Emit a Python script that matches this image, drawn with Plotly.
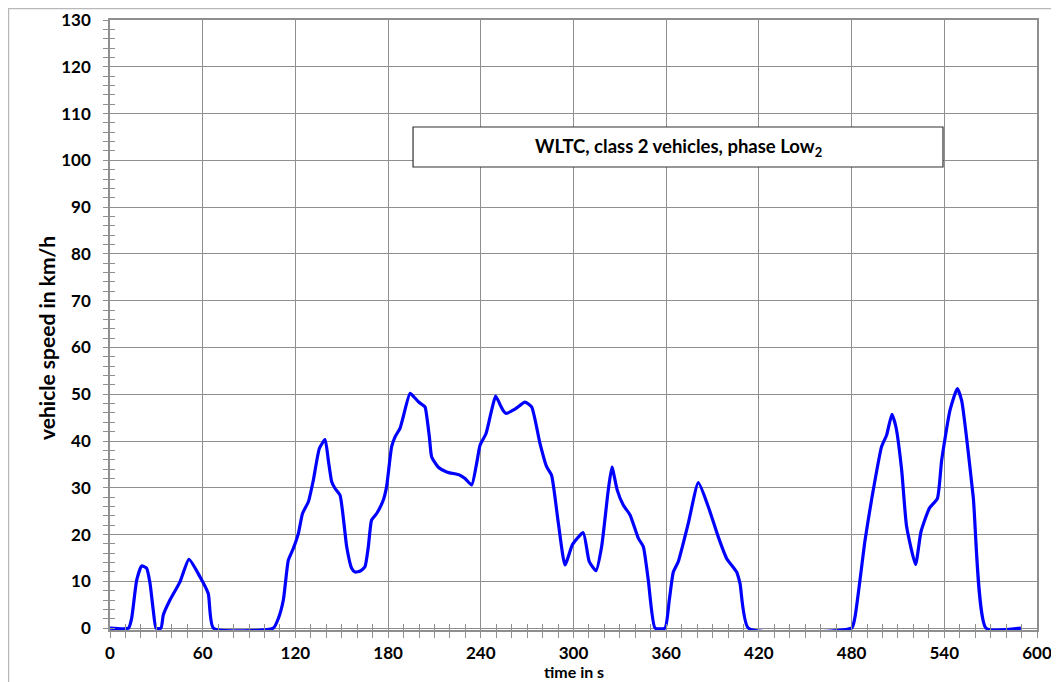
import plotly.graph_objects as go

# WLTC class 2, phase Low2 – speed trace
time_s = [
    0, 12, 14, 17.3, 20.5, 23.7, 25.9, 28, 29.8, 33, 34.5, 38.8, 45.3, 51.1,
    58.2, 63.6, 66.9, 105.7, 109, 112.2, 115.4, 118.6, 121.9, 124.6, 128.4,
    131.6, 135.5, 139.2, 141.3, 143.5, 145.6, 148.9, 153.2, 156.4, 158.6, 162,
    165, 167.2, 169.3, 172.6, 176.9, 179, 182.3, 184.5, 187.7, 189.8, 194.2,
    196.5, 199.6, 202.4, 203.9, 206.7, 208.2, 212.5, 217.9, 226.5, 229.8,
    234.1, 237.3, 239.5, 243.4, 247, 249.6, 252.9, 254.5, 256.3, 262.1, 268.6,
    272.9, 278.3, 282.6, 285.8, 290.2, 294.5, 299.4, 306.3, 310.2, 314.6,
    318.2, 322.5, 324.9, 328.3, 332.2, 336.6, 342, 345.2, 348.4, 352.8, 359.2,
    362, 364.6, 367.8, 374.3, 380.8, 387.3, 393.7, 399.1, 405.6, 407.8, 413.2,
    480, 482.2, 488.7, 492.9, 499.4, 502.7, 506.1, 508.7, 512.4, 515.6, 521.4,
    524.9, 530.3, 535.5, 538.3, 543.7, 548.4, 551.2, 558.7, 567, 589.6,
]
speed_kmh = [
    0, 0, 2.1, 10.3, 13.3, 12.8, 9.6, 3.8, 0, 0, 2.8, 6, 9.9, 14.7,
    11, 7.4, 0, 0, 2.1, 6, 14.5, 17, 20.2, 24.5, 27,
    31.6, 38.4, 40.3, 35.9, 31.3, 29.9, 28.4, 17.4, 12.8, 12.0, 12.2,
    13.1, 17.4, 23.1, 24.5, 27.4, 30.2, 38.8, 40.9, 42.7, 45.2, 50.2,
    49.5, 48.4, 47.7, 47.3, 40.9, 36.6, 34.4, 33.4, 32.7, 32,
    30.6, 35.2, 39.1, 41.6, 46.6, 49.6, 47.5, 46.5, 45.9, 46.8, 48.3,
    47.3, 39.5, 34.5, 32.7, 22.4, 13.5, 17.9, 20.4, 14.2, 12.3,
    17.4, 29.5, 34.4, 29.5, 26.3, 24.2, 19.2, 17.4, 10.3, 0, 0,
    6, 12, 14.2, 22.4, 31.1, 25.9, 19.5, 14.9, 12.0, 9.5, 0,
    0, 2.4, 18.8, 27.4, 38.8, 41.3, 45.7, 43, 33.8, 21.7, 13.6,
    20.6, 25.6, 27.7, 35.9, 46.6, 51.2, 48.7, 28.1, 0, 0,
]

X_RANGE = [0, 600]
Y_RANGE = [-0.4, 130]   # small pad so the line along 0 is not clipped
FONT = "Lato"
GRID = "#8f8f8f"

fig = go.Figure()
fig.add_trace(go.Scatter(
    x=time_s, y=speed_kmh,
    mode="lines",
    line=dict(color="#0000ff", width=3.2, shape="spline", smoothing=0.5),
    showlegend=False,
))
# empty trace so the overlay axes (inner half of the crossing ticks) get drawn
fig.add_trace(go.Scatter(x=[], y=[], xaxis="x2", yaxis="y2", showlegend=False))

tick_font = dict(family=FONT, size=17, color="black", weight="bold")

# the page body keeps its 8 px margin, so the figure is 8 px smaller each way
fig.update_layout(
    width=1051, height=674,
    margin=dict(l=102, r=22, t=12, b=52, autoexpand=False),
    paper_bgcolor="white", plot_bgcolor="white",
    xaxis=dict(
        range=X_RANGE, tick0=0, dtick=60, automargin=False,
        showgrid=True, gridcolor=GRID, gridwidth=1,
        showline=True, linecolor=GRID, linewidth=1.5, mirror=True,
        ticks="outside", ticklen=6, tickcolor=GRID, tickwidth=1,
        minor=dict(dtick=10, ticks="outside", ticklen=6, tickcolor=GRID, showgrid=False),
        tickfont=tick_font, ticklabelstandoff=1,
        zeroline=False,
    ),
    yaxis=dict(
        range=Y_RANGE, tick0=0, dtick=10, automargin=False,
        showgrid=True, gridcolor=GRID, gridwidth=1,
        showline=True, linecolor=GRID, linewidth=1.5, mirror=True,
        ticks="outside", ticklen=5, tickcolor=GRID, tickwidth=1,
        minor=dict(dtick=2, ticks="outside", ticklen=5, tickcolor=GRID, showgrid=False),
        tickfont=tick_font, ticklabelstandoff=9,
        zeroline=False,
    ),
    xaxis2=dict(
        range=X_RANGE, overlaying="x", anchor="y2", side="bottom",
        tick0=0, dtick=60, showgrid=False, showline=False, zeroline=False,
        showticklabels=False,
        ticks="inside", ticklen=6, tickcolor=GRID,
        minor=dict(dtick=10, ticks="inside", ticklen=6, tickcolor=GRID, showgrid=False),
    ),
    yaxis2=dict(
        range=Y_RANGE, overlaying="y", anchor="x2", side="left",
        tick0=0, dtick=10, showgrid=False, showline=False, zeroline=False,
        showticklabels=False,
        ticks="inside", ticklen=5, tickcolor=GRID,
        minor=dict(dtick=2, ticks="inside", ticklen=5, tickcolor=GRID, showgrid=False),
    ),
)

# axis titles
fig.add_annotation(xref="paper", yref="paper", x=0.5, y=-0.0852,
                   text="time in s", showarrow=False,
                   font=dict(family=FONT, size=16, color="black", weight="bold"),
                   xanchor="center", yanchor="bottom", borderpad=0)
fig.add_annotation(xref="paper", yref="paper", x=-0.068, y=0.4787,
                   text="vehicle speed in km/h", showarrow=False,
                   font=dict(family=FONT, size=21, color="black", weight="bold"),
                   textangle=-90, xanchor="center", yanchor="middle")

# outer chart frame
fig.add_shape(type="rect", xref="paper", yref="paper",
              x0=-0.1095, x1=1.04, y0=-0.12, y1=1.0189,
              line=dict(color="#b8b8b8", width=1.5), fillcolor="rgba(0,0,0,0)")

# label box
fig.add_shape(type="rect", xref="paper", yref="paper",
              x0=0.3269, x1=0.8986, y0=0.759, y1=0.8246,
              line=dict(color="#303030", width=1.2), fillcolor="white", layer="above")
fig.add_annotation(
    xref="paper", yref="paper", x=(0.3269 + 0.8986) / 2, y=(0.759 + 0.8246) / 2,
    text="WLTC, class 2 vehicles, phase Low<sub>2</sub>", showarrow=False,
    font=dict(family=FONT, size=18.5, color="black", weight="bold"),
    xanchor="center", yanchor="middle",
)

fig.write_html("out.html")
